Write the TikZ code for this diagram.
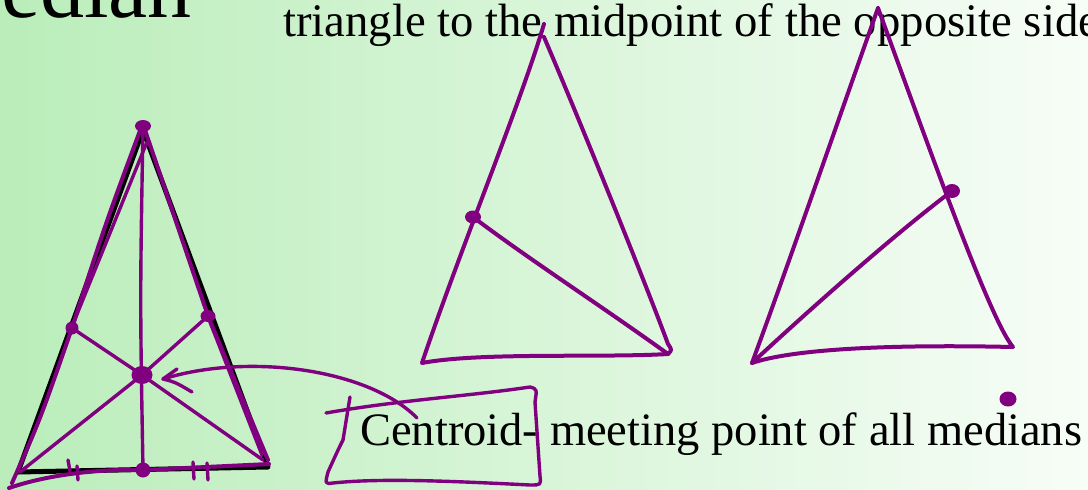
\documentclass[tikz,border=0pt]{standalone}
\usepackage{fontspec}
\setmainfont{Liberation Serif}
\usetikzlibrary{positioning}
\definecolor{pen}{HTML}{800080}
\definecolor{slideleft}{RGB}{186,237,186}
\definecolor{slideright}{RGB}{247,253,247}

\begin{document}
\begin{tikzpicture}[x=1pt,y=-1pt,
  ink/.style={draw=pen,line width=4pt,line cap=round,line join=round},
  thinink/.style={ink,line width=3.4pt},
  blob/.style={fill=pen}]
\useasboundingbox (0,0) rectangle (1088,490);
\clip (0,0) rectangle (1088,490);
\shade[left color=slideleft,right color=slideright] (0,0) rectangle (1088,490);

% slide text
\node[anchor=base east,inner sep=0,font=\fontsize{88}{100}\selectfont] (title) at (192,17) {Median};
\node[anchor=base west,inner sep=0,font=\fontsize{46.7}{55}\selectfont] (defn) at (283,36) {triangle to the midpoint of the opposite side};
\node[anchor=base west,inner sep=0,font=\fontsize{46.5}{55}\selectfont] (cen) at (360,445) {Centroid- meeting point of all medians};

% printed triangle
\coordinate (A) at (143,130); \coordinate (B) at (18,472); \coordinate (C) at (268,467);
\draw[line width=5pt,line join=round] (A) -- (B) -- (C) -- cycle;

% ink over it
\coordinate (mA) at (143,126); \coordinate (mL) at (72,328); \coordinate (mR) at (208,316);
\coordinate (G) at (142,375); \coordinate (mB) at (143,470);
\draw[ink] (141,128) .. controls (105,225) .. (mL) .. controls (40,420) .. (12,483);
\draw[thinink] (147,142) -- (73,324);
\draw[ink] (145,130) -- (mR) -- (268,460);
\draw[thinink] (210,322) -- (262,455);
\draw[ink] (9,488) .. controls (50,474) and (100,469) .. (mB) -- (269,464);
\draw[thinink] (mA) .. controls (140,300) .. (mB);
\draw[thinink] (mL) -- (G) -- (263,460);
\draw[thinink] (mR) -- (G) -- (20,472);
\fill[blob] (mA) ellipse (8 and 6);
\fill[blob] (mL) circle (6.5);
\fill[blob] (mR) ellipse (7.5 and 6);
\fill[blob] (G) ellipse (10.5 and 9);
\fill[blob] (mB) circle (7.5);
\draw[thinink] (68,460) -- (70,471) (77,466) -- (78,480);
\draw[thinink] (193,462) -- (194,479) (207,463) -- (208,480);

% arrow to the centroid
\coordinate (tail) at (417,418); \coordinate (tip) at (163,379);
\draw[thinink] (tail) .. controls (370,370) and (250,352) .. (tip);
\draw[thinink] (177,369) -- (tip) .. controls (175,382) .. (192,392);

% box round the word
\draw[thinink] (326,413) .. controls (400,400) and (470,396) .. (530,387)
  .. controls (537,389) .. (535,402) -- (540,476) .. controls (541,485) .. (530,485)
  .. controls (450,481) and (380,478) .. (333,483) .. controls (325,484) .. (328,472)
  .. controls (338,450) .. (343,440) -- (350,397);

% middle triangle
\coordinate (p1) at (544,24); \coordinate (p2) at (422,363); \coordinate (p3) at (668,354);
\coordinate (pm) at (473,217);
\draw[ink] (p1) .. controls (520,105) and (460,250) .. (p2)
  .. controls (480,352) and (600,358) .. (p3) .. controls (672,350) .. (668,344)
  .. controls (650,295) and (588,140) .. (544,37);
\draw[ink] (pm) .. controls (530,260) and (600,305) .. (p3);
\fill[blob] (pm) ellipse (8 and 6.5);

% right triangle
\coordinate (q1) at (878,8); \coordinate (q2) at (752,363); \coordinate (q3) at (1013,347);
\coordinate (qm) at (952,191);
\draw[ink] (q1) .. controls (840,115) and (790,260) .. (q2)
  .. controls (790,350) and (880,344) .. (q3)
  .. controls (990,320) and (930,150) .. (q1);
\draw[ink] (q2) .. controls (820,300) and (900,230) .. (qm);
\fill[blob] (qm) ellipse (8 and 7);

\fill[blob] (1008,399) ellipse (8.5 and 7.5);
\end{tikzpicture}
\end{document}
